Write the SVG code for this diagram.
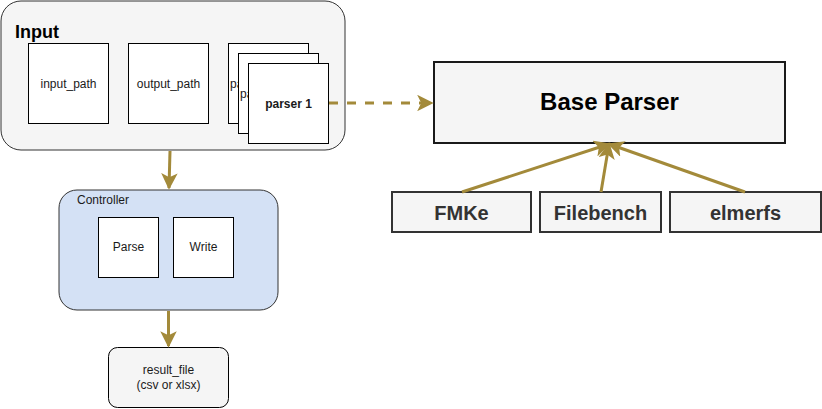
<svg xmlns="http://www.w3.org/2000/svg" width="822" height="409" viewBox="0 0 822 409">
<style>
text{font-family:"Liberation Sans",Arial,sans-serif;fill:#1a1a1a}
.w{fill:#fff;stroke:#000;stroke-width:1}
.s12{font-size:12px}
.c{text-anchor:middle}
.b{font-weight:bold}
.con{stroke:#a38a3a;stroke-width:3;fill:none}
.gb{fill:#f5f5f5;stroke:#333;stroke-width:2}
</style>
<defs>
<marker id="ah" viewBox="0 0 10 10" refX="9" refY="5" markerWidth="5.5" markerHeight="5.5" markerUnits="strokeWidth" orient="auto">
<path d="M0,0 L10,5 L0,10 L2.5,5 Z" fill="#a38a3a"/>
</marker>
</defs>
<g id="input">
<rect x="1" y="1" width="344" height="149" rx="20" fill="#f5f5f5" stroke="#333" stroke-width="1"/>
<text x="15" y="38" font-size="18" class="b" style="fill:#000">Input</text>
</g>
<g id="input_path"><rect class="w" x="28.5" y="43.5" width="80" height="80"/><text class="s12 c" x="68.5" y="87.5">input_path</text></g>
<g id="output_path"><rect class="w" x="128.5" y="43.5" width="80" height="80"/><text class="s12 c" x="168.5" y="87.5">output_path</text></g>
<g id="parser3"><rect class="w" x="228.5" y="43.5" width="80" height="80"/><text class="s12" x="230" y="88">pa</text></g>
<g id="parser2"><rect class="w" x="238.5" y="53.5" width="80" height="80"/><text class="s12" x="240" y="98">pa</text></g>
<g id="parser1"><rect class="w" x="248.5" y="63.5" width="80" height="80"/><text class="s12 c b" x="288.5" y="107.5">parser 1</text></g>
<g id="base_parser"><rect x="434" y="62" width="351" height="81" fill="#f5f5f5" stroke="#1a1a1a" stroke-width="2"/><text class="c b" x="609.5" y="110" font-size="24" style="fill:#000">Base Parser</text></g>
<g id="fmke"><rect class="gb" x="392" y="192" width="139" height="40"/><text class="c b" x="461.5" y="220" font-size="20" style="fill:#333">FMKe</text></g>
<g id="filebench"><rect class="gb" x="540" y="192" width="121" height="40"/><text class="c b" x="600.5" y="220" font-size="20" style="fill:#333">Filebench</text></g>
<g id="elmerfs"><rect class="gb" x="670" y="192" width="151" height="40"/><text class="c b" x="745.5" y="220" font-size="20" style="fill:#333">elmerfs</text></g>
<g id="controller">
<rect x="59" y="190" width="219" height="120" rx="18" fill="#d4e1f5" stroke="#333" stroke-width="1"/>
<text class="s12" x="77" y="204">Controller</text>
</g>
<g id="parse"><rect class="w" x="98.5" y="217.5" width="60" height="60"/><text class="s12 c" x="128.5" y="251">Parse</text></g>
<g id="write"><rect class="w" x="173.5" y="217.5" width="60" height="60"/><text class="s12 c" x="203.5" y="251">Write</text></g>
<g id="result_file"><rect x="108.5" y="347.5" width="120" height="60" rx="9" fill="#f5f5f5" stroke="#000" stroke-width="1"/><text class="s12 c" x="168.5" y="374">result_file</text><text class="s12 c" x="168.5" y="389">(csv or xlsx)</text></g>
<g id="connectors">
<path class="con" d="M329,103 L432,103" stroke-dasharray="9,9" marker-end="url(#ah)"/>
<path class="con" d="M170,151 L169,188" marker-end="url(#ah)"/>
<path class="con" d="M168.5,311 L168.5,346" marker-end="url(#ah)"/>
<path class="con" d="M462,192 L609,144" marker-end="url(#ah)"/>
<path class="con" d="M601,192 L609,144" marker-end="url(#ah)"/>
<path class="con" d="M745,192 L609,144" marker-end="url(#ah)"/>
</g>
</svg>
